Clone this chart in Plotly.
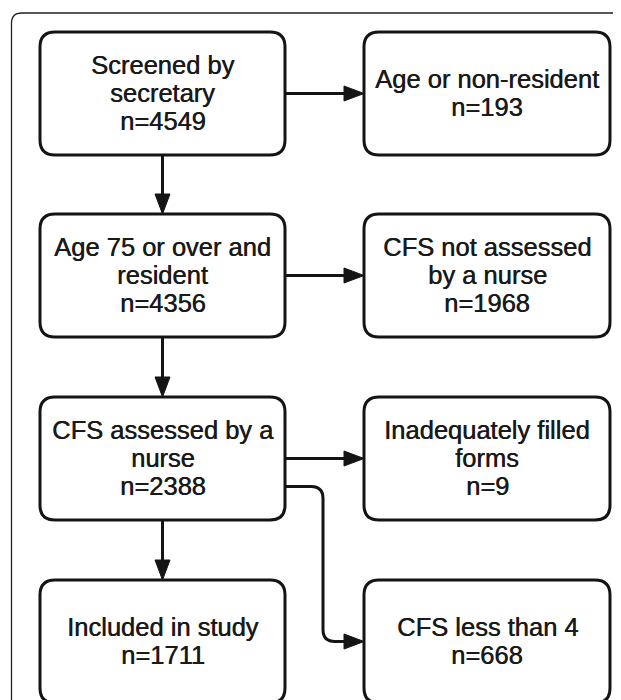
import plotly.graph_objects as go

# ---- data ----
stage_labels = ["Screened by<br>secretary", "Age 75 or over and<br>resident",
                "CFS assessed by a<br>nurse", "Included in study"]
stage_n = [4549, 4356, 2388, 1711]
excluded_labels = ["Age or non-resident", "CFS not assessed<br>by a nurse",
                   "Inadequately filled<br>forms", "CFS less than 4"]
excluded_n = [193, 1968, 9, 668]

# ---- layout constants ----
W, H = 621, 700
OFF = 8  # page body margin offset
row_tops = [32, 214, 397, 580]
box_h = 123
left_x = (40, 285)
right_x = (364, 610)
rad = 15
lw = 3
lc = "#141414"
font = dict(family="Liberation Sans, Arial, sans-serif", size=25.5, color="#1a1a1a",
            shadow="0.5px 0px 0px #1a1a1a")
line_gap = 28
ah_len, ah_half = 20, 7.5

shapes = []
annotations = []


def rrect(x0, y0, x1, y1, r):
    return (f"M {x0+r},{y0} L {x1-r},{y0} Q {x1},{y0} {x1},{y0+r} "
            f"L {x1},{y1-r} Q {x1},{y1} {x1-r},{y1} L {x0+r},{y1} "
            f"Q {x0},{y1} {x0},{y1-r} L {x0},{y0+r} Q {x0},{y0} {x0+r},{y0} Z")


def add_box(xr, top, lines):
    x0, x1 = xr
    y0, y1 = top, top + box_h
    shapes.append(dict(type="path", path=rrect(x0, y0, x1, y1, rad),
                       line=dict(color=lc, width=lw), fillcolor="white", layer="above"))
    cy = (y0 + y1) / 2
    cx = (x0 + x1) / 2
    k = len(lines)
    for i, t in enumerate(lines):
        yy = cy + (i - (k - 1) / 2) * line_gap - 1
        annotations.append(dict(x=cx, y=yy, xref="x", yref="y", text=t, showarrow=False,
                                font=font, xanchor="center", yanchor="middle"))


def head_right(tx, ty):
    shapes.append(dict(type="path",
                       path=f"M {tx},{ty} L {tx-ah_len},{ty-ah_half} L {tx-ah_len},{ty+ah_half} Z",
                       line=dict(color=lc, width=1), fillcolor=lc, layer="above"))


def head_down(tx, ty):
    shapes.append(dict(type="path",
                       path=f"M {tx},{ty} L {tx-ah_half},{ty-ah_len} L {tx+ah_half},{ty-ah_len} Z",
                       line=dict(color=lc, width=1), fillcolor=lc, layer="above"))


# outer frame
shapes.append(dict(type="path",
                   path="M 11.5,760 L 11.5,23.5 Q 11.5,13 22,13 L 700,13",
                   line=dict(color="#222222", width=1.3)))

for i in range(4):
    top = row_tops[i]
    cy = top + box_h / 2
    add_box(left_x, top, stage_labels[i].split("<br>") + [f"n={stage_n[i]}"])
    add_box(right_x, top, excluded_labels[i].split("<br>") + [f"n={excluded_n[i]}"])

    if i < 3:
        shapes.append(dict(type="line", x0=left_x[1], x1=right_x[0] - ah_len + 2, y0=cy, y1=cy,
                           line=dict(color=lc, width=lw)))
        head_right(right_x[0], cy)
        cx = (left_x[0] + left_x[1]) / 2
        nt = row_tops[i + 1]
        shapes.append(dict(type="line", x0=cx, x1=cx, y0=top + box_h, y1=nt - ah_len + 2,
                           line=dict(color=lc, width=lw)))
        head_down(cx, nt)

# curved connector from stage 3 to last exclusion box
y_start = row_tops[2] + box_h / 2 + line_gap
y_end = row_tops[3] + box_h / 2
vx = 323
r2 = 12
shapes.append(dict(type="path",
                   path=(f"M {left_x[1]},{y_start} L {vx-r2},{y_start} Q {vx},{y_start} {vx},{y_start+r2} "
                         f"L {vx},{y_end-r2} Q {vx},{y_end} {vx+r2},{y_end} L {right_x[0]-ah_len+2},{y_end}"),
                   line=dict(color=lc, width=lw)))
head_right(right_x[0], y_end)

fig = go.Figure()
fig.update_layout(
    width=W - OFF, height=H - OFF,
    margin=dict(l=0, r=0, t=0, b=0),
    paper_bgcolor="white", plot_bgcolor="white",
    xaxis=dict(range=[OFF, W], visible=False, showgrid=False, zeroline=False, fixedrange=True),
    yaxis=dict(range=[H, OFF], visible=False, showgrid=False, zeroline=False, fixedrange=True),
    shapes=shapes, annotations=annotations, showlegend=False,
)
fig.write_html("out.html")
